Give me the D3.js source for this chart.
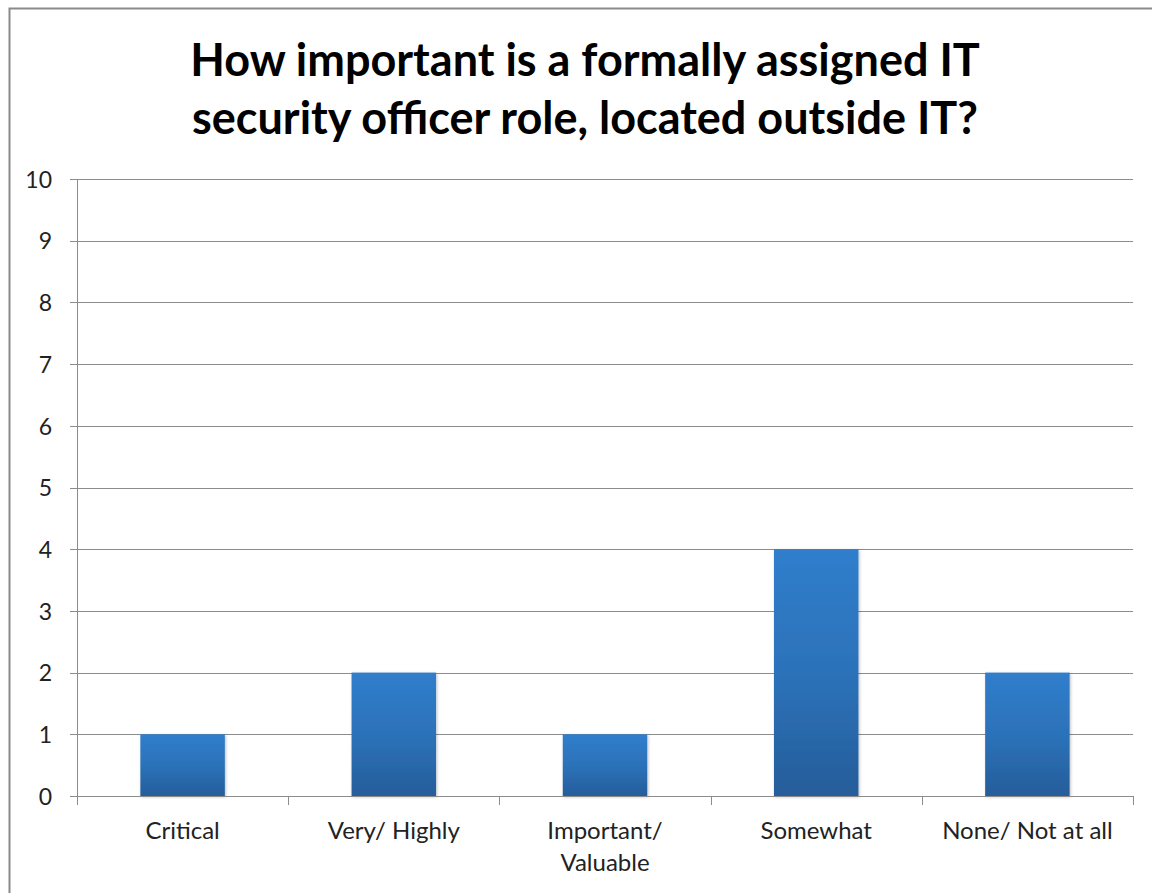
<!DOCTYPE html>
<html>
<head>
<meta charset="utf-8">
<script src="https://cdn.jsdelivr.net/npm/d3@7"></script>
<style>
  html, body { margin: 0; padding: 0; background: #fff; }
  svg { display: block; }
</style>
</head>
<body>
<svg id="chart" width="1152" height="893"></svg>
<script>
// Survey responses
const categories = [["Critical"], ["Very/ Highly"], ["Important/", "Valuable"], ["Somewhat"], ["None/ Not at all"]];
const counts = [1, 2, 1, 4, 2];
const yTicks = [0, 1, 2, 3, 4, 5, 6, 7, 8, 9, 10];
const titleLines = ["How important is a formally assigned IT", "security officer role, located outside IT?"];

const svg = d3.select("#chart");
const font = "Lato, 'Open Sans', sans-serif";

// outer chart frame (runs off the right and bottom edges)
svg.append("rect")
  .attr("x", 9.5).attr("y", 8.5)
  .attr("width", 1200).attr("height", 950)
  .attr("fill", "#fff").attr("stroke", "#8a8a8a").attr("stroke-width", 2);

const plot = { left: 77, right: 1133, top: 179, bottom: 796 };
const keys = categories.map((c, i) => i);

const x = d3.scaleBand().domain(keys).range([plot.left, plot.right])
  .paddingInner(0.6).paddingOuter(0.3);
const xCat = d3.scaleBand().domain(keys).range([plot.left, plot.right]).padding(0);
const y = d3.scaleLinear().domain([0, 10]).range([plot.bottom, plot.top]);

// gradient fill for bars
const defs = svg.append("defs");
const grad = defs.append("linearGradient").attr("id", "barGrad")
  .attr("x1", 0).attr("y1", 0).attr("x2", 0).attr("y2", 1);
grad.append("stop").attr("offset", "0%").attr("stop-color", "#307ecc");
grad.append("stop").attr("offset", "50%").attr("stop-color", "#2c72b9");
grad.append("stop").attr("offset", "100%").attr("stop-color", "#255d9a");
const shadow = defs.append("filter").attr("id", "barShadow")
  .attr("x", "-20%").attr("y", "-20%").attr("width", "140%").attr("height", "140%");
shadow.append("feDropShadow").attr("dx", 1).attr("dy", 1).attr("stdDeviation", 1.5)
  .attr("flood-color", "#000").attr("flood-opacity", 0.25);

// horizontal gridlines + y axis
const yAxis = d3.axisLeft(y).tickValues(yTicks).tickSize(-(plot.right - plot.left)).tickPadding(25)
  .tickFormat(d3.format("d"));
const gy = svg.append("g").attr("transform", `translate(${plot.left},0)`).call(yAxis);
gy.select(".domain").remove();
gy.selectAll(".tick line").attr("stroke", "#8c8c8c").attr("stroke-width", 1)
  .attr("x1", -7).attr("shape-rendering", "crispEdges");
gy.selectAll(".tick text").attr("font-family", font).attr("font-size", 23)
  .attr("fill", "#222").attr("dy", "0.36em");

// vertical axis line
svg.append("line").attr("x1", plot.left + 0.5).attr("x2", plot.left + 0.5)
  .attr("y1", plot.top).attr("y2", plot.bottom)
  .attr("stroke", "#8c8c8c").attr("stroke-width", 1);

// category axis with ticks at band edges
const edges = keys.map(k => xCat(k)).concat([plot.right]);
svg.append("g").selectAll("line").data(edges).join("line")
  .attr("x1", d => Math.round(d) + 0.5).attr("x2", d => Math.round(d) + 0.5)
  .attr("y1", plot.bottom).attr("y2", plot.bottom + 9)
  .attr("stroke", "#8c8c8c");

// bars
svg.append("g").selectAll("rect").data(counts).join("rect")
  .attr("x", (d, i) => x(i)).attr("width", x.bandwidth())
  .attr("y", d => y(d)).attr("height", d => y(0) - y(d))
  .attr("fill", "url(#barGrad)").attr("filter", "url(#barShadow)");

// x axis baseline over bars
svg.append("line").attr("x1", plot.left).attr("x2", plot.right)
  .attr("y1", plot.bottom + 0.5).attr("y2", plot.bottom + 0.5)
  .attr("stroke", "#8c8c8c");

// category labels
const labels = svg.append("g").selectAll("text").data(categories).join("text")
  .attr("font-family", font).attr("font-size", 24).attr("fill", "#222")
  .attr("text-anchor", "middle")
  .attr("transform", (d, i) => `translate(${xCat(i) + xCat.bandwidth() / 2},839)`);
labels.selectAll("tspan").data(d => d).join("tspan")
  .attr("x", 0).attr("dy", (d, j) => j === 0 ? 0 : 32).text(d => d);

// title
svg.append("text").attr("font-family", font).attr("font-weight", "bold")
  .attr("font-size", 45).attr("fill", "#000").attr("text-anchor", "middle")
  .selectAll("tspan").data(titleLines).join("tspan")
  .attr("x", 585).attr("y", (d, i) => 76 + i * 58).text(d => d);
</script>
</body>
</html>
